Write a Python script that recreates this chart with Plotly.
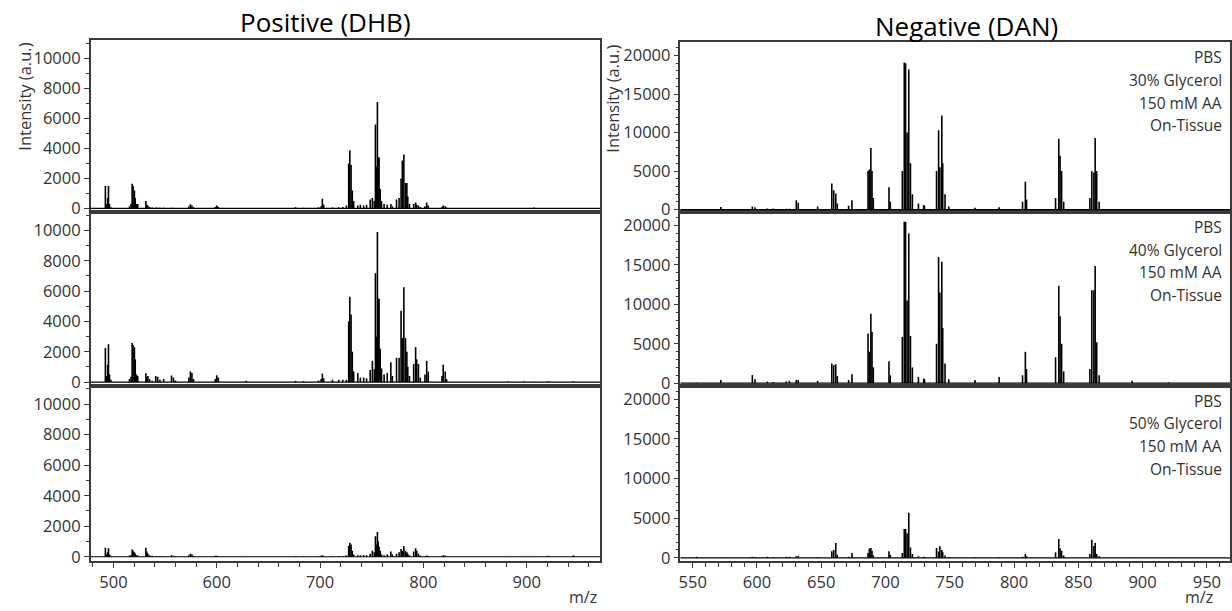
import plotly.graph_objects as go

W, H = 1232, 611

# ---------------- data ----------------
left_mz = [492.2, 493.2, 494.4, 495.2, 496.2, 497.5, 515.5, 517.0, 518.1, 519.0, 520.3, 521.1,
           522.3, 523.5, 531.4, 532.3, 533.3, 535.0, 537.5, 540.9, 542.8, 545.0, 548.6, 556.2,
           558.1, 560.0, 573.0, 574.5, 576.0, 577.5, 598.5, 600.0, 601.5, 628.6, 676.2, 684.0,
           698.5, 701.0, 702.2, 703.5, 712.0, 718.0, 722.0, 725.5, 727.7, 728.8, 730.0, 731.2,
           732.5, 736.5, 739.0, 742.2, 745.0, 748.5, 750.6, 752.5, 753.6, 754.5, 755.5, 756.3,
           757.1, 758.2, 759.5, 762.0, 765.0, 768.5, 770.0, 774.0, 776.5, 778.4, 779.6, 781.1,
           782.7, 784.0, 784.9, 786.5, 790.6, 792.5, 793.5, 795.2, 797.0, 801.5, 803.2, 804.7,
           818.0, 819.2, 821.1, 822.5, 882.1, 897.3, 906.8, 920.2, 922.1, 945.0, 945.7]
pos_30 = [1500, 300, 700, 1500, 300, 80, 150, 300, 1650, 1500, 1200, 700,
          300, 300, 500, 250, 200, 100, 60, 60, 50, 40, 50, 40,
          30, 20, 150, 280, 200, 80, 100, 200, 120, 30, 80, 40,
          80, 150, 650, 250, 60, 80, 100, 200, 3000, 3870, 2900, 1200,
          500, 200, 250, 200, 250, 600, 700, 500, 5600, 2800, 7100, 3400,
          3400, 1300, 500, 300, 250, 300, 150, 600, 700, 2000, 3200, 3600,
          1700, 1700, 800, 300, 300, 400, 250, 200, 100, 150, 400, 200,
          100, 200, 150, 60, 20, 20, 60, 20, 20, 30, 20]
pos_40 = [2240, 400, 1150, 2500, 500, 150, 200, 350, 2580, 2450, 2300, 1500,
          500, 400, 580, 300, 400, 200, 80, 400, 350, 150, 200, 430,
          300, 100, 300, 700, 600, 200, 200, 450, 300, 80, 80, 60,
          100, 200, 560, 250, 150, 150, 150, 150, 4000, 5630, 4450, 2000,
          700, 600, 300, 300, 250, 800, 1400, 850, 7180, 3000, 9890, 5500,
          5500, 2200, 900, 500, 600, 1300, 400, 1600, 1600, 4700, 2900, 6250,
          2900, 2000, 1000, 400, 1200, 2300, 1500, 1200, 300, 500, 1400, 700,
          400, 1150, 700, 200, 40, 40, 30, 40, 40, 40, 30]
pos_50 = [590, 150, 300, 560, 150, 60, 80, 100, 480, 400, 300, 200,
          100, 80, 590, 350, 200, 100, 60, 50, 40, 40, 40, 100,
          60, 30, 100, 200, 150, 50, 60, 60, 40, 20, 40, 30,
          40, 60, 100, 50, 40, 40, 50, 100, 700, 910, 800, 400,
          150, 100, 100, 100, 100, 200, 400, 300, 1340, 800, 1630, 1000,
          650, 400, 150, 100, 150, 350, 150, 200, 300, 500, 400, 700,
          400, 300, 200, 100, 350, 560, 400, 200, 80, 50, 80, 50,
          40, 100, 80, 40, 20, 20, 20, 60, 50, 80, 60]

right_mz = [553.0, 571.9, 596.4, 598.5, 608.0, 612.7, 622.7, 625.2, 630.6, 632.1, 647.2, 658.2,
            659.7, 661.3, 662.5, 671.3, 673.9, 686.4, 687.4, 688.6, 689.5, 690.5, 702.7, 703.7,
            713.1, 714.6, 715.6, 716.8, 718.1, 719.4, 720.9, 725.6, 729.7, 730.3, 739.7, 741.3,
            742.3, 743.8, 744.5, 746.3, 749.2, 769.6, 788.4, 806.6, 808.8, 809.7, 832.3, 834.8,
            835.8, 837.0, 838.6, 859.0, 860.5, 862.1, 863.1, 864.3, 866.2, 891.9, 920.2]
neg_30 = [80, 320, 400, 300, 150, 150, 120, 100, 1200, 900, 400, 3400,
          2500, 2100, 800, 500, 1200, 5000, 5200, 8000, 5000, 1500, 2900, 1000,
          5000, 19100, 19000, 10000, 18200, 6000, 2000, 800, 600, 500, 5000, 10300,
          5500, 12200, 6000, 2000, 400, 250, 300, 1000, 3600, 1300, 1500, 9200,
          7000, 5000, 1000, 1500, 5000, 4800, 9300, 5000, 1000, 60, 40]
neg_40 = [60, 420, 1050, 500, 200, 150, 200, 300, 420, 400, 300, 2500,
          2300, 2400, 900, 400, 1130, 6300, 4000, 8800, 6500, 2000, 2800, 1000,
          5870, 20500, 20500, 10500, 19000, 6000, 2000, 800, 600, 500, 5000, 16000,
          11500, 15400, 7000, 2500, 500, 400, 800, 1000, 3980, 1800, 3300, 12360,
          8500, 5000, 1500, 1800, 11800, 11800, 14870, 5200, 1000, 300, 100]
neg_50 = [150, 60, 150, 100, 150, 100, 150, 150, 200, 250, 100, 830,
          1000, 1875, 400, 150, 625, 600, 1170, 1250, 900, 300, 830, 400,
          600, 3630, 3630, 3100, 5700, 1300, 500, 200, 150, 100, 1250, 800,
          1460, 1000, 700, 300, 100, 80, 80, 150, 500, 200, 700, 2380,
          1200, 900, 300, 500, 2290, 1500, 1875, 500, 200, 60, 40]

left_ticks = [0, 2000, 4000, 6000, 8000, 10000]
right_ticks = [0, 5000, 10000, 15000, 20000]
left_xticks = [500, 600, 700, 800, 900]
right_xticks = [550, 600, 650, 700, 750, 800, 850, 900, 950]
conditions = [["PBS", "30% Glycerol", "150 mM AA", "On-Tissue"],
              ["PBS", "40% Glycerol", "150 mM AA", "On-Tissue"],
              ["PBS", "50% Glycerol", "150 mM AA", "On-Tissue"]]
titles = ["Positive (DHB)", "Negative (DAN)"]
ytitle = "Intensity (a.u.)"
xtitle = "m/z"

# ---------------- layout helpers ----------------
def px_x(p):
    return p / W

def px_y(p):
    return 1 - p / H

FONT = "Open Sans"
TXT = "#333333"
LINE = "#3a3a3a"

left_dom = [px_x(89), px_x(600)]
right_dom = [px_x(680.7), 1.0]
left_rows = [(41, 215), (215, 391), (391, 568)]
right_rows = [(43, 215), (215, 391), (391, 568)]


def sticks(mz, inten):
    xs, ys = [], []
    for m, v in zip(mz, inten):
        xs += [m, m, None]
        ys += [0, v, None]
    return xs, ys


fig = go.Figure()
spectra = [(left_mz, pos_30), (left_mz, pos_40), (left_mz, pos_50),
           (right_mz, neg_30), (right_mz, neg_40), (right_mz, neg_50)]
for i, (mz, inten) in enumerate(spectra):
    xs, ys = sticks(mz, inten)
    n = "" if i == 0 else str(i + 1)
    fig.add_trace(go.Scatter(x=xs, y=ys, mode="lines", xaxis="x" + n, yaxis="y" + n,
                             line=dict(color="black", width=1.6), hoverinfo="skip",
                             showlegend=False))

layout = dict(width=W, height=H, margin=dict(l=0, r=0, t=0, b=0),
              paper_bgcolor="white", plot_bgcolor="white", showlegend=False,
              font=dict(family=FONT, size=16, color=TXT))

shapes = []
annotations = []
for i in range(6):
    left = i < 3
    row = i % 3
    n = "" if i == 0 else str(i + 1)
    top, bot = (left_rows if left else right_rows)[row]
    xt = left_xticks if left else right_xticks
    xa = dict(domain=left_dom if left else right_dom,
              range=[478, 971] if left else [540.5, 968],
              anchor="y" + n, showline=True, mirror=True, linecolor=LINE, linewidth=1.5,
              showgrid=False, zeroline=False, fixedrange=True)
    if row == 2:
        xa.update(tickmode="array", tickvals=xt, ticktext=[str(v) for v in xt],
                  ticks="outside", ticklen=6, tickwidth=1, tickcolor=LINE,
                  tickfont=dict(family=FONT, size=16.5, color=TXT),
                  minor=dict(dtick=20 if left else 10, ticks="outside", ticklen=5,
                             tickwidth=1, tickcolor=LINE, showgrid=False))
    else:
        xa.update(showticklabels=False, ticks="")
    yt = left_ticks if left else right_ticks
    ya = dict(domain=[px_y(bot), px_y(top)],
              range=[-250, 11200] if left else [-340, 21700],
              anchor="x" + n, showline=True, mirror=True, linecolor=LINE, linewidth=1.5,
              showgrid=False, zeroline=False, fixedrange=True,
              tickmode="array", tickvals=yt, ticktext=[str(v) for v in yt],
              ticks="outside", ticklen=5, tickwidth=1, tickcolor=LINE,
              tickfont=dict(family=FONT, size=16.5, color=TXT),
              minor=dict(dtick=1000, ticks="outside", ticklen=3, tickwidth=1,
                         tickcolor=LINE, showgrid=False))
    layout["xaxis" + n] = xa
    layout["yaxis" + n] = ya
    shapes.append(dict(type="line", xref="x" + n + " domain", yref="y" + n,
                       x0=0, x1=1, y0=0, y1=0, line=dict(color="black", width=1.2)))
    if not left:
        for k, t in enumerate(conditions[row]):
            annotations.append(dict(text=t, x=px_x(1226), y=px_y(top + 15 + k * 23),
                                    xref="paper", yref="paper", xanchor="right",
                                    yanchor="middle", showarrow=False,
                                    font=dict(family=FONT, size=15.5, color=TXT)))

annotations += [
    dict(text=titles[0], x=px_x(325), y=px_y(22), xref="paper", yref="paper",
         showarrow=False, xanchor="center", yanchor="middle",
         font=dict(family=FONT, size=26, color="black")),
    dict(text=titles[1], x=px_x(968), y=px_y(26), xref="paper", yref="paper",
         showarrow=False, xanchor="center", yanchor="middle",
         font=dict(family=FONT, size=26, color="black")),
    dict(text=ytitle, x=px_x(23), y=px_y(98), xref="paper", yref="paper", textangle=-90,
         showarrow=False, xanchor="center", yanchor="middle",
         font=dict(family=FONT, size=16.5, color=TXT)),
    dict(text=ytitle, x=px_x(613), y=px_y(100), xref="paper", yref="paper", textangle=-90,
         showarrow=False, xanchor="center", yanchor="middle",
         font=dict(family=FONT, size=16.5, color=TXT)),
    dict(text=xtitle, x=px_x(583), y=px_y(605), xref="paper", yref="paper",
         showarrow=False, xanchor="center", yanchor="middle",
         font=dict(family=FONT, size=16, color=TXT)),
    dict(text=xtitle, x=px_x(1201), y=px_y(605), xref="paper", yref="paper",
         showarrow=False, xanchor="center", yanchor="middle",
         font=dict(family=FONT, size=16, color=TXT)),
]
layout["shapes"] = shapes
layout["annotations"] = annotations
fig.update_layout(**layout)
fig.write_html("out.html")
